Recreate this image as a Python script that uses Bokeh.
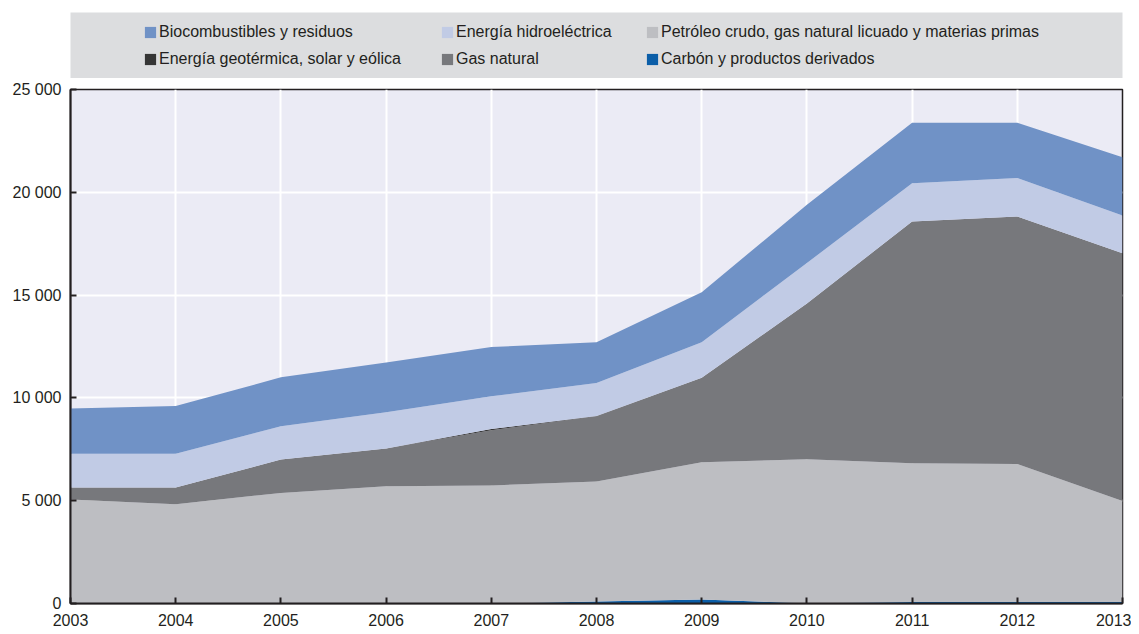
from bokeh.plotting import figure
from bokeh.models import ColumnDataSource, Range1d, FixedTicker, Legend, LegendItem
from bokeh.layouts import column
from bokeh.embed import file_html
from bokeh.resources import INLINE

# ---- data ----
years = [2003, 2004, 2005, 2006, 2007, 2008, 2009, 2010, 2011, 2012, 2013]
carbon = [0, 0, 0, 0, 0, 100, 200, 10, 70, 70, 70]
petroleo = [5060, 4830, 5380, 5700, 5740, 5830, 6670, 7010, 6750, 6720, 4910]
gas = [580, 810, 1620, 1840, 2690, 3180, 4110, 7570, 11760, 12030, 12060]
geo = [0, 0, 0, 0, 60, 10, 0, 0, 0, 0, 0]
hidro = [1640, 1640, 1620, 1760, 1590, 1610, 1730, 1970, 1860, 1870, 1830]
bio = [2200, 2320, 2380, 2420, 2390, 1980, 2430, 2830, 2940, 2690, 2840]

series_keys = ["carbon", "petroleo", "gas", "geo", "hidro", "bio"]
series_labels = {
    "carbon": "Carbón y productos derivados",
    "petroleo": "Petróleo crudo, gas natural licuado y materias primas",
    "gas": "Gas natural",
    "geo": "Energía geotérmica, solar y eólica",
    "hidro": "Energía hidroeléctrica",
    "bio": "Biocombustibles y residuos",
}
series_colors = {
    "carbon": "#0B5EA8",
    "petroleo": "#BDBEC2",
    "gas": "#77787C",
    "geo": "#353535",
    "hidro": "#C1CBE5",
    "bio": "#7092C6",
}
y_ticks = [0, 5000, 10000, 15000, 20000, 25000]
y_tick_labels = ["0", "5 000", "10 000", "15 000", "20 000", "25 000"]

FONT = "Liberation Sans"
TXT = "#231F20"

src = ColumnDataSource(dict(year=years, carbon=carbon, petroleo=petroleo, gas=gas,
                            geo=geo, hidro=hidro, bio=bio))

# ---- main chart ----
p = figure(width=1131, height=555, x_range=Range1d(2003, 2013), y_range=Range1d(0, 25000),
           output_backend="svg", toolbar_location=None,
           min_border_left=70, min_border_right=9, min_border_top=11, min_border_bottom=30,
           background_fill_color="#EBEBF5", border_fill_color="white")
p.varea_stack(stackers=series_keys, x="year", color=[series_colors[k] for k in series_keys],
              source=src)

p.outline_line_color = TXT
p.outline_line_width = 1.5

p.xaxis.ticker = FixedTicker(ticks=years)
p.yaxis.ticker = FixedTicker(ticks=y_ticks)
p.yaxis.major_label_overrides = {t: l for t, l in zip(y_ticks, y_tick_labels)}
for ax in (p.xaxis[0], p.yaxis[0]):
    ax.axis_line_color = TXT
    ax.axis_line_width = 2
    ax.major_tick_line_color = TXT
    ax.major_tick_line_width = 2
    ax.major_tick_in = 6
    ax.major_tick_out = 0
    ax.minor_tick_line_color = None
    ax.major_label_text_font = FONT
    ax.major_label_text_font_size = "16px"
    ax.major_label_text_color = TXT
p.xaxis.major_label_standoff = 10
p.yaxis.major_label_standoff = 9

p.xgrid.ticker = FixedTicker(ticks=years)
p.ygrid.ticker = FixedTicker(ticks=y_ticks)
p.grid.grid_line_color = "white"
p.grid.grid_line_width = 2

# ---- legend band ----
leg = figure(width=1131, height=78, x_range=Range1d(0, 1), y_range=Range1d(0, 1),
             x_axis_location=None, y_axis_location=None,
             output_backend="svg", toolbar_location=None,
             min_border_left=70, min_border_right=9, min_border_top=12, min_border_bottom=0,
             background_fill_color="#DCDDDF", border_fill_color="white",
             outline_line_color=None)
leg.grid.visible = False

# proxy renderers for the legend swatches (placed outside the visible range)
dummy = {}
for k in series_keys:
    dummy[k] = leg.quad(left=[-3], right=[-2], top=[-2], bottom=[-3],
                        fill_color=series_colors[k], line_color=None)

columns_spec = [(["bio", "geo"], 73), (["hidro", "gas"], 370), (["petroleo", "carbon"], 575)]
for keys, xpos in columns_spec:
    L = Legend(items=[LegendItem(label=series_labels[k], renderers=[dummy[k]]) for k in keys],
               location=(xpos, 9), orientation="vertical", spacing=7, padding=0, margin=0,
               glyph_width=14, glyph_height=14, label_height=20, label_standoff=2,
               label_text_font=FONT, label_text_font_size="16px", label_text_color=TXT,
               background_fill_alpha=0, border_line_color=None)
    leg.add_layout(L, "center")

layout = column(leg, p, spacing=0)
open("out.html", "w").write(file_html(layout, INLINE))
